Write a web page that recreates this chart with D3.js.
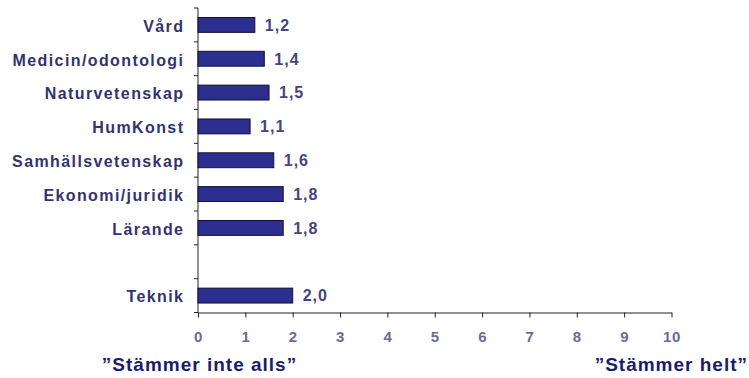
<!DOCTYPE html>
<html><head><meta charset="utf-8">
<script src="https://cdn.jsdelivr.net/npm/d3@7"></script>
<style>body{margin:0;background:#fff}svg{display:block}</style>
</head><body>
<svg id="c" width="749" height="378"></svg>
<script>
const categories = ["Vård","Medicin/odontologi","Naturvetenskap","HumKonst","Samhällsvetenskap","Ekonomi/juridik","Lärande","","Teknik"];
const values = [1.2,1.4,1.5,1.1,1.6,1.8,1.8,null,2.0];
const valueLabels = ["1,2","1,4","1,5","1,1","1,6","1,8","1,8","","2,0"];
const xTicks = [0,1,2,3,4,5,6,7,8,9,10];
const leftNote = "\u201DStämmer inte alls\u201D";
const rightNote = "\u201DStämmer helt\u201D";

const svg = d3.select("#c");
const font = "'Liberation Sans', Arial, sans-serif";
const x0 = 198, x1 = 671.5, yTop = 8, yBot = 312.5;
const x = d3.scaleLinear().domain([0,10]).range([x0,x1]);
const y = d3.scaleBand().domain(d3.range(categories.length)).range([yTop,yBot]).paddingInner(0.56).paddingOuter(0.28);
const yb = d3.scaleBand().domain(d3.range(categories.length)).range([yTop,yBot]);

// y axis line + ticks at slot boundaries
const g = svg.append("g");
g.append("line").attr("x1",x0).attr("x2",x0).attr("y1",yTop).attr("y2",yBot).attr("stroke","#222").attr("stroke-width",1);
const bounds = d3.range(categories.length+1).map(i => yTop + i*yb.step());
g.selectAll(".yt").data(bounds).join("line").attr("x1",x0-4).attr("x2",x0).attr("y1",d=>d).attr("y2",d=>d).attr("stroke","#222");

// x axis
const xa = svg.append("g").attr("transform",`translate(0,${yBot})`)
  .call(d3.axisBottom(x).tickValues(xTicks).tickSize(5).tickSizeOuter(0).tickFormat(d3.format("d")));
xa.select(".domain").attr("stroke","#222");
xa.selectAll(".tick line").attr("stroke","#222");
xa.selectAll(".tick text").attr("dy","0").attr("y",29)
  .attr("fill","#6a6a9c").attr("font-family",font).attr("font-weight","bold").attr("font-size","15px")
  .attr("letter-spacing","0.6px");

// bars
const idx = d3.range(categories.length).filter(i => values[i] != null);
svg.selectAll(".bar").data(idx).join("rect")
  .attr("x",x(0)).attr("y",i=>y(i)).attr("width",i=>x(values[i])-x(0)).attr("height",y.bandwidth())
  .attr("fill","#2c2e90").attr("stroke","#111133").attr("stroke-width",1);

// value labels
svg.selectAll(".vl").data(idx).join("text")
  .attr("x",i=>x(values[i])+10).attr("y",i=>y(i)+y.bandwidth()/2).attr("dy","0.36em")
  .attr("fill","#454580").attr("font-family",font).attr("font-weight","bold").attr("font-size","16px")
  .attr("letter-spacing","1px")
  .text(i=>valueLabels[i]);

// category labels
svg.selectAll(".cl").data(d3.range(categories.length)).join("text")
  .attr("x",184.4).attr("y",i=>yb(i)+yb.bandwidth()/2+1).attr("dy","0.36em").attr("text-anchor","end")
  .attr("fill","#33336e").attr("font-family",font).attr("font-weight","bold").attr("font-size","16px")
  .attr("letter-spacing","1.4px")
  .text(i=>categories[i]);

// notes
svg.append("text").attr("x",199.5).attr("y",371).attr("text-anchor","middle")
  .attr("fill","#1b1b6b").attr("font-family",font).attr("font-weight","bold").attr("font-size","19px")
  .attr("letter-spacing","1px").text(leftNote);
svg.append("text").attr("x",748).attr("y",371).attr("text-anchor","end")
  .attr("fill","#1b1b6b").attr("font-family",font).attr("font-weight","bold").attr("font-size","19px")
  .attr("letter-spacing","1px").text(rightNote);
</script>
</body></html>
